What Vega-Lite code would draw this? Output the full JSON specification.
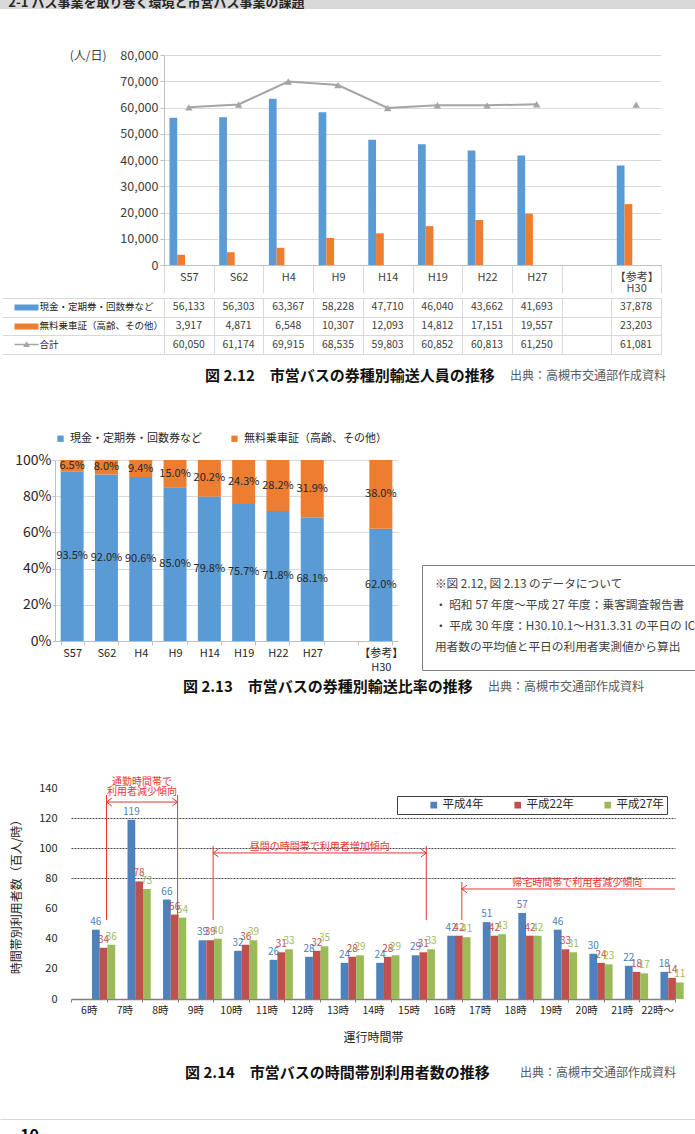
{
  "$schema": "https://vega.github.io/schema/vega-lite/v6.json",
  "padding": 0,
  "spacing": 0,
  "background": "white",
  "resolve": {"scale": {"color": "independent", "shape": "independent"}, "legend": {"color": "independent", "shape": "independent"}},
  "config": {
    "font": "Noto Sans CJK JP",
    "view": {"stroke": null},
    "concat": {"spacing": 0},
    "axis": {"labelColor": "#404040", "titleColor": "#404040", "titleFontWeight": "normal", "labelOverlap": false, "tickCount": 50},
    "legend": {"labelColor": "#404040"}
  },
  "datasets": {
    "c1": [
      {"cat": "S57", "cash": 56133, "free": 3917, "total": 60050},
      {"cat": "S62", "cash": 56303, "free": 4871, "total": 61174},
      {"cat": "H4", "cash": 63367, "free": 6548, "total": 69915},
      {"cat": "H9", "cash": 58228, "free": 10307, "total": 68535},
      {"cat": "H14", "cash": 47710, "free": 12093, "total": 59803},
      {"cat": "H19", "cash": 46040, "free": 14812, "total": 60852},
      {"cat": "H22", "cash": 43662, "free": 17151, "total": 60813},
      {"cat": "H27", "cash": 41693, "free": 19557, "total": 61250},
      {"cat": "H30", "cash": 37878, "free": 23203, "total": 61081}
    ],
    "c2": [
      {"cat": "S57", "s": "cash", "o": 1, "p": 0.935}, {"cat": "S57", "s": "free", "o": 2, "p": 0.065},
      {"cat": "S62", "s": "cash", "o": 1, "p": 0.920}, {"cat": "S62", "s": "free", "o": 2, "p": 0.080},
      {"cat": "H4", "s": "cash", "o": 1, "p": 0.906}, {"cat": "H4", "s": "free", "o": 2, "p": 0.094},
      {"cat": "H9", "s": "cash", "o": 1, "p": 0.850}, {"cat": "H9", "s": "free", "o": 2, "p": 0.150},
      {"cat": "H14", "s": "cash", "o": 1, "p": 0.798}, {"cat": "H14", "s": "free", "o": 2, "p": 0.202},
      {"cat": "H19", "s": "cash", "o": 1, "p": 0.757}, {"cat": "H19", "s": "free", "o": 2, "p": 0.243},
      {"cat": "H22", "s": "cash", "o": 1, "p": 0.718}, {"cat": "H22", "s": "free", "o": 2, "p": 0.282},
      {"cat": "H27", "s": "cash", "o": 1, "p": 0.681}, {"cat": "H27", "s": "free", "o": 2, "p": 0.319},
      {"cat": "H30", "s": "cash", "o": 1, "p": 0.620}, {"cat": "H30", "s": "free", "o": 2, "p": 0.380}
    ],
    "c3": [
      {"t": "6時", "s": "平成4年", "v": 46}, {"t": "6時", "s": "平成22年", "v": 34}, {"t": "6時", "s": "平成27年", "v": 36},
      {"t": "7時", "s": "平成4年", "v": 119}, {"t": "7時", "s": "平成22年", "v": 78}, {"t": "7時", "s": "平成27年", "v": 73},
      {"t": "8時", "s": "平成4年", "v": 66}, {"t": "8時", "s": "平成22年", "v": 56}, {"t": "8時", "s": "平成27年", "v": 54},
      {"t": "9時", "s": "平成4年", "v": 39}, {"t": "9時", "s": "平成22年", "v": 39}, {"t": "9時", "s": "平成27年", "v": 40},
      {"t": "10時", "s": "平成4年", "v": 32}, {"t": "10時", "s": "平成22年", "v": 36}, {"t": "10時", "s": "平成27年", "v": 39},
      {"t": "11時", "s": "平成4年", "v": 26}, {"t": "11時", "s": "平成22年", "v": 31}, {"t": "11時", "s": "平成27年", "v": 33},
      {"t": "12時", "s": "平成4年", "v": 28}, {"t": "12時", "s": "平成22年", "v": 32}, {"t": "12時", "s": "平成27年", "v": 35},
      {"t": "13時", "s": "平成4年", "v": 24}, {"t": "13時", "s": "平成22年", "v": 28}, {"t": "13時", "s": "平成27年", "v": 29},
      {"t": "14時", "s": "平成4年", "v": 24}, {"t": "14時", "s": "平成22年", "v": 28}, {"t": "14時", "s": "平成27年", "v": 29},
      {"t": "15時", "s": "平成4年", "v": 29}, {"t": "15時", "s": "平成22年", "v": 31}, {"t": "15時", "s": "平成27年", "v": 33},
      {"t": "16時", "s": "平成4年", "v": 42}, {"t": "16時", "s": "平成22年", "v": 42}, {"t": "16時", "s": "平成27年", "v": 41},
      {"t": "17時", "s": "平成4年", "v": 51}, {"t": "17時", "s": "平成22年", "v": 42}, {"t": "17時", "s": "平成27年", "v": 43},
      {"t": "18時", "s": "平成4年", "v": 57}, {"t": "18時", "s": "平成22年", "v": 42}, {"t": "18時", "s": "平成27年", "v": 42},
      {"t": "19時", "s": "平成4年", "v": 46}, {"t": "19時", "s": "平成22年", "v": 33}, {"t": "19時", "s": "平成27年", "v": 31},
      {"t": "20時", "s": "平成4年", "v": 30}, {"t": "20時", "s": "平成22年", "v": 24}, {"t": "20時", "s": "平成27年", "v": 23},
      {"t": "21時", "s": "平成4年", "v": 22}, {"t": "21時", "s": "平成22年", "v": 18}, {"t": "21時", "s": "平成27年", "v": 17},
      {"t": "22時～", "s": "平成4年", "v": 18}, {"t": "22時～", "s": "平成22年", "v": 14}, {"t": "22時～", "s": "平成27年", "v": 11}
    ]
  },
  "vconcat": [
    {
      "width": 695, "height": 9,
      "view": {"fill": "#d9d9d9", "stroke": null},
      "data": {"values": [{"h": "2-1 バス事業を取り巻く環境と市営バス事業の課題", "r": "r"}]},
      "mark": {"type": "text", "clip": true, "align": "left", "baseline": "alphabetic", "fontSize": 13, "fontWeight": "bold", "color": "#262626"},
      "encoding": {
        "x": {"field": "h", "type": "nominal", "axis": null, "scale": {"type": "point", "padding": 0, "align": 0.012}},
        "y": {"field": "r", "type": "nominal", "axis": null, "scale": {"type": "point", "padding": 0, "align": 0.8}},
        "text": {"field": "h"}
      }
    },
    {"width": 695, "height": 40, "data": {"values": []}, "mark": "text"},
    {
      "resolve": {"scale": {"color": "independent"}, "legend": {"color": "independent"}},
      "hconcat": [
        {"width": 1, "height": 1, "data": {"values": []}, "mark": "text"},
        {
          "resolve": {"scale": {"color": "independent"}, "legend": {"color": "independent"}},
          "vconcat": [
            {
              "width": 497, "height": 210,
              "data": {"name": "c1"},
              "layer": [
                {
                  "transform": [{"fold": ["cash", "free"], "as": ["k", "v"]}],
                  "mark": {"type": "bar"},
                  "encoding": {
                    "x": {"field": "cat", "type": "nominal", "title": null,
                      "scale": {"domain": ["S57","S62","H4","H9","H14","H19","H22","H27","blank","H30"], "paddingInner": 0, "paddingOuter": 0},
                      "axis": {"orient": "bottom", "title": null, "labelAngle": 0, "domainColor": "#bfbfbf", "tickBand": "extent", "tickSize": 28, "tickColor": "#d9d9d9",
                        "labelPadding": -16, "labelBaseline": "middle", "labelFont": "Liberation Sans Narrow, Noto Sans CJK JP", "labelFontSize": 11, "labelLineHeight": 11,
                        "labelExpr": "datum.value == 'blank' ? '' : datum.value == 'H30' ? ['【参考】', 'H30'] : datum.value"}},
                    "xOffset": {"field": "k", "scale": {"domain": ["cash", "free"], "paddingInner": 0, "paddingOuter": 0.71}},
                    "y": {"field": "v", "type": "quantitative", "title": "(人/日)",
                      "scale": {"domain": [0, 80000], "nice": false},
                      "axis": {"values": [0, 10000, 20000, 30000, 40000, 50000, 60000, 70000, 80000], "labelOverlap": false, "format": ",d", "labelFont": "Liberation Sans Narrow, Noto Sans CJK JP", "labelFontSize": 12.5, "labelPadding": 2,
                        "tickSize": 4, "tickColor": "#bfbfbf", "domain": true, "domainColor": "#bfbfbf", "gridColor": "#d9d9d9",
                        "titleAngle": 0, "titleAlign": "right", "titleBaseline": "middle", "titleX": -58, "titleY": 0, "titleFontSize": 12}},
                    "color": {"field": "k", "scale": {"domain": ["cash", "free"], "range": ["#5b9bd5", "#ed7d31"]}, "legend": null}
                  }
                },
                {
                  "transform": [{"filter": "datum.cat != 'H30'"}],
                  "mark": {"type": "line", "color": "#a5a5a5", "strokeWidth": 2},
                  "encoding": {
                    "x": {"field": "cat", "type": "nominal", "sort": ["S57","S62","H4","H9","H14","H19","H22","H27","blank","H30"], "title": null},
                    "y": {"field": "total", "type": "quantitative", "title": "(人/日)"}
                  }
                },
                {
                  "mark": {"type": "point", "shape": "triangle-up", "filled": true, "color": "#a5a5a5", "size": 55, "opacity": 1},
                  "encoding": {
                    "x": {"field": "cat", "type": "nominal", "title": null},
                    "y": {"field": "total", "type": "quantitative", "title": "(人/日)"}
                  }
                }
              ]
            },
            {
              "width": 497, "height": 56,
              "data": {"name": "c1"},
              "transform": [{"fold": ["cash", "free", "total"], "as": ["row", "val"]}],
              "layer": [
                {
                  "mark": {"type": "text", "font": "Liberation Sans Narrow, Noto Sans CJK JP", "fontSize": 10.5, "color": "#404040"},
                  "encoding": {
                    "x": {"field": "cat", "type": "nominal", "title": null,
                      "scale": {"domain": ["S57","S62","H4","H9","H14","H19","H22","H27","blank","H30"], "padding": 0},
                      "axis": {"title": null, "labels": false, "ticks": false, "domain": false, "grid": true, "tickBand": "extent", "gridColor": "#d9d9d9"}},
                    "y": {"field": "row", "type": "nominal", "title": null,
                      "scale": {"domain": ["cash", "free", "total"], "padding": 0},
                      "axis": {"orient": "left", "title": null, "domain": false, "grid": true, "gridColor": "#d9d9d9", "tickBand": "extent", "ticks": true, "tickSize": 162, "tickColor": "#d9d9d9",
                        "labelExpr": "datum.value == 'total' ? '▲' : ''", "labelAlign": "center", "labelBaseline": "middle", "labelPadding": -24, "labelFontSize": 7, "labelColor": "#a5a5a5"}},
                    "text": {"field": "val", "type": "quantitative", "format": ","}
                  }
                },
                {
                  "mark": {"type": "text", "opacity": 0},
                  "encoding": {
                    "x": {"field": "cat", "type": "nominal", "title": null},
                    "y": {"field": "row", "type": "nominal", "title": null,
                      "axis": {"orient": "left", "offset": 126, "title": null, "domain": false, "grid": false, "ticks": true, "tickSize": 24, "tickCap": "butt",
                        "tickWidth": {"condition": {"test": "datum.value == 'total'", "value": 1.5}, "value": 6},
                        "tickColor": {"condition": [{"test": "datum.value == 'cash'", "value": "#5b9bd5"}, {"test": "datum.value == 'free'", "value": "#ed7d31"}], "value": "#a5a5a5"},
                        "labelExpr": "datum.value == 'cash' ? '現金・定期券・回数券など' : datum.value == 'free' ? '無料乗車証（高齢、その他）' : '合計'",
                        "labelAlign": "left", "labelBaseline": "middle", "labelPadding": -25, "labelFontSize": 9.5, "labelLimit": 200, "labelColor": "#262626"}},
                    "text": {"field": "val", "type": "quantitative"}
                  }
                }
              ],
              "resolve": {"axis": {"y": "independent"}}
            }
          ]
        }
      ]
    },
    {
      "width": 695, "height": 78,
      "data": {"values": [{"k": "cap", "r": "r", "t": "図 2.12　市営バスの券種別輸送人員の推移"}, {"k": "src", "r": "r", "t": "出典：高槻市交通部作成資料"}]},
      "encoding": {
        "x": {"field": "k", "type": "nominal", "axis": null, "scale": {"type": "point", "domain": ["cap", "src"], "padding": 0.6393, "align": 0.5256}},
        "y": {"field": "r", "type": "nominal", "axis": null, "scale": {"type": "point", "padding": 0, "align": 0.27}},
        "text": {"field": "t"}
      },
      "layer": [
        {"transform": [{"filter": "datum.k == 'cap'"}], "mark": {"type": "text", "align": "left", "baseline": "middle", "fontSize": 15, "fontWeight": "bold", "color": "#111111"}},
        {"transform": [{"filter": "datum.k == 'src'"}], "mark": {"type": "text", "align": "left", "baseline": "middle", "fontSize": 12, "color": "#595959"}}
      ]
    },
    {
      "resolve": {"scale": {"color": "independent"}, "legend": {"color": "independent"}},
      "hconcat": [
        {"width": 14, "height": 1, "data": {"values": []}, "mark": "text"},
        {
          "width": 343, "height": 181,
          "data": {"name": "c2"},
          "encoding": {
            "x": {"field": "cat", "type": "nominal", "title": null,
              "scale": {"domain": ["S57","S62","H4","H9","H14","H19","H22","H27","blank","H30"], "paddingInner": 0.33, "paddingOuter": 0.165},
              "axis": {"title": null, "labelAngle": 0, "labelFontSize": 11, "tickBand": "extent", "tickSize": 4, "tickColor": "#bfbfbf", "domainColor": "#bfbfbf",
                "labelPadding": 2, "labelLineHeight": 14, "labelColor": "#262626",
                "labelExpr": "datum.value == 'blank' ? '' : datum.value == 'H30' ? ['【参考】', 'H30'] : datum.value"}},
            "order": {"field": "o"}
          },
          "layer": [
            {
              "mark": {"type": "bar"},
              "encoding": {
                "y": {"field": "p", "type": "quantitative", "stack": "zero", "title": null,
                  "scale": {"domain": [0, 1], "nice": false},
                  "axis": {"title": null, "format": ".0%", "values": [0, 0.2, 0.4, 0.6, 0.8, 1], "labelOverlap": false, "labelFontSize": 14, "tickSize": 3, "labelPadding": 1,
                    "domainColor": "#bfbfbf", "tickColor": "#bfbfbf", "gridColor": "#d9d9d9", "labelColor": "#262626", "minExtent": 0}},
                "color": {"field": "s", "scale": {"domain": ["cash", "free"], "range": ["#5b9bd5", "#ed7d31"]},
                  "legend": {"title": null, "orient": "top", "direction": "horizontal", "symbolType": "square", "symbolSize": 40, "labelFontSize": 11,
                    "columnPadding": 27, "labelOffset": 4, "offset": 16, "padding": 0, "labelLimit": 300, "labelColor": "#262626",
                    "labelExpr": "datum.value == 'cash' ? '現金・定期券・回数券など' : '無料乗車証（高齢、その他）'"}}
              }
            },
            {
              "mark": {"type": "text", "fontSize": 11, "color": "#262626"},
              "encoding": {
                "y": {"field": "p", "type": "quantitative", "stack": "zero", "bandPosition": 0.5, "title": null},
                "detail": {"field": "s"},
                "text": {"field": "p", "type": "quantitative", "format": ".1%"}
              }
            }
          ]
        },
        {"width": 18, "height": 1, "data": {"values": []}, "mark": "text"},
        {
          "vconcat": [
            {"width": 280, "height": 104, "data": {"values": []}, "mark": "text"},
            {
              "width": 280, "height": 105,
              "view": {"stroke": "#7f7f7f", "strokeWidth": 1},
              "data": {"values": [
                {"n": 1, "c": "c", "t": "※図 2.12, 図 2.13 のデータについて"},
                {"n": 2, "c": "c", "t": "・ 昭和 57 年度～平成 27 年度：乗客調査報告書"},
                {"n": 3, "c": "c", "t": "・ 平成 30 年度：H30.10.1～H31.3.31 の平日の IC"},
                {"n": 4, "c": "c", "t": "　 用者数の平均値と平日の利用者実測値から算出"}
              ]},
              "mark": {"type": "text", "align": "left", "baseline": "middle", "fontSize": 11.7, "color": "#404040", "clip": true},
              "encoding": {
                "x": {"field": "c", "type": "nominal", "axis": null, "scale": {"type": "point", "padding": 0, "align": 0.046}},
                "y": {"field": "n", "type": "ordinal", "axis": null, "scale": {"type": "point", "padding": 1.53, "align": 0.45}},
                "text": {"field": "t"}
              }
            }
          ]
        }
      ]
    },
    {
      "width": 695, "height": 104,
      "data": {"values": [{"k": "cap", "r": "r", "t": "図 2.13　市営バスの券種別輸送比率の推移"}, {"k": "src", "r": "r", "t": "出典：高槻市交通部作成資料"}]},
      "encoding": {
        "x": {"field": "k", "type": "nominal", "axis": null, "scale": {"type": "point", "domain": ["cap", "src"], "padding": 0.6393, "align": 0.4692}},
        "y": {"field": "r", "type": "nominal", "axis": null, "scale": {"type": "point", "padding": 0, "align": 0.1442}},
        "text": {"field": "t"}
      },
      "layer": [
        {"transform": [{"filter": "datum.k == 'cap'"}], "mark": {"type": "text", "align": "left", "baseline": "middle", "fontSize": 15, "fontWeight": "bold", "color": "#111111"}},
        {"transform": [{"filter": "datum.k == 'src'"}], "mark": {"type": "text", "align": "left", "baseline": "middle", "fontSize": 12, "color": "#595959"}}
      ]
    },
    {
      "resolve": {"scale": {"color": "independent", "shape": "independent"}, "legend": {"color": "independent", "shape": "independent"}},
      "hconcat": [
        {"width": 10, "height": 1, "data": {"values": []}, "mark": "text"},
        {
          "width": 604, "height": 211,
          "layer": [
            {
              "data": {"name": "c3"},
              "mark": {"type": "bar"},
              "encoding": {
                "x": {"field": "t", "type": "nominal", "title": "運行時間帯",
                  "scale": {"domain": ["6時","7時","8時","9時","10時","11時","12時","13時","14時","15時","16時","17時","18時","19時","20時","21時","22時～"], "padding": 0},
                  "axis": {"title": "運行時間帯", "labelAngle": 0, "labelFontSize": 10.5, "tickBand": "extent", "tickSize": 3, "tickColor": "#808080", "domainColor": "#808080", "domainWidth": 1.5,
                    "labelPadding": 3, "titlePadding": 17, "titleFontSize": 12, "labelColor": "#262626", "titleColor": "#262626"}},
                "xOffset": {"field": "s", "scale": {"domain": ["平成4年", "平成22年", "平成27年"], "paddingInner": 0, "paddingOuter": 0.33}},
                "y": {"field": "v", "type": "quantitative", "title": "時間帯別利用者数（百人/時）",
                  "scale": {"domain": [0, 140], "nice": false},
                  "axis": {"title": "時間帯別利用者数（百人/時）", "values": [0, 20, 40, 60, 80, 100, 120, 140], "labelOverlap": false, "labelFontSize": 11, "labelPadding": 14, "ticks": false, "tickSize": 0, "domain": false,
                    "grid": true, "gridColor": "#000000", "gridDash": [2, 1], "gridWidth": 0.7,
                    "gridOpacity": {"condition": {"test": "datum.value >= 80 && datum.value <= 120", "value": 1}, "value": 0},
                    "titleFontSize": 12, "titlePadding": 15, "labelColor": "#262626", "titleColor": "#262626"}},
                "color": {"field": "s", "scale": {"domain": ["平成4年", "平成22年", "平成27年"], "range": ["#4f81bd", "#c0504d", "#9bbb59"]},
                  "legend": {"title": null, "orient": "top-right", "offset": 8, "direction": "horizontal", "symbolType": "square", "symbolSize": 45, "labelFontSize": 11.5,
                    "strokeColor": "#404040", "fillColor": "white", "padding": 3, "columnPadding": 0, "symbolOffset": 28, "labelOffset": 3, "labelLimit": 200, "labelColor": "#262626"}}
              }
            },
            {
              "data": {"name": "c3"},
              "mark": {"type": "text", "fontSize": 10, "baseline": "middle", "dy": -8},
              "encoding": {
                "x": {"field": "t", "type": "nominal", "title": "運行時間帯"},
                "xOffset": {"field": "s"},
                "y": {"field": "v", "type": "quantitative", "title": "時間帯別利用者数（百人/時）"},
                "text": {"field": "v", "type": "quantitative"},
                "color": {"field": "s"}
              }
            },
            {
              "data": {"values": [
                {"c": "7時", "y1": 52.4, "y2": 135.4}, {"c": "9時", "y1": 52.4, "y2": 135.4},
                {"c": "10時", "y1": 52.4, "y2": 101.5}, {"c": "16時", "y1": 52.4, "y2": 101.5},
                {"c": "17時", "y1": 52.4, "y2": 77.6}
              ]},
              "mark": {"type": "rule", "color": "#ee3333", "strokeWidth": 1},
              "encoding": {
                "x": {"field": "c", "type": "nominal", "bandPosition": 0, "title": "運行時間帯"},
                "y": {"field": "y1", "type": "quantitative", "title": "時間帯別利用者数（百人/時）"},
                "y2": {"field": "y2"}
              }
            },
            {
              "data": {"values": [{"c1": "7時", "c2": "9時", "y": 130.7}, {"c1": "10時", "c2": "16時", "y": 96.9}]},
              "mark": {"type": "rule", "color": "#ee3333", "strokeWidth": 1},
              "encoding": {
                "x": {"field": "c1", "type": "nominal", "bandPosition": 0, "title": "運行時間帯"},
                "x2": {"field": "c2", "bandPosition": 0},
                "y": {"field": "y", "type": "quantitative", "title": "時間帯別利用者数（百人/時）"}
              }
            },
            {
              "data": {"values": [{"c1": "17時", "c2": "22時～", "y": 73}]},
              "mark": {"type": "rule", "color": "#ee3333", "strokeWidth": 1},
              "encoding": {
                "x": {"field": "c1", "type": "nominal", "bandPosition": 0, "title": "運行時間帯"},
                "x2": {"field": "c2", "bandPosition": 1},
                "y": {"field": "y", "type": "quantitative", "title": "時間帯別利用者数（百人/時）"}
              }
            },
            {
              "data": {"values": [
                {"c": "7時", "y": 130.7, "d": "L"}, {"c": "9時", "y": 130.7, "d": "R"},
                {"c": "10時", "y": 96.9, "d": "L"}, {"c": "16時", "y": 96.9, "d": "R"},
                {"c": "17時", "y": 73, "d": "L"}
              ]},
              "mark": {"type": "point", "filled": false, "stroke": "#ee3333", "strokeWidth": 1, "size": 110, "opacity": 1},
              "encoding": {
                "x": {"field": "c", "type": "nominal", "bandPosition": 0, "title": "運行時間帯"},
                "y": {"field": "y", "type": "quantitative", "title": "時間帯別利用者数（百人/時）"},
                "shape": {"field": "d", "scale": {"domain": ["L", "R"], "range": ["M0,0L1,-0.75M0,0L1,0.75", "M0,0L-1,-0.75M0,0L-1,0.75"]}, "legend": null}
              }
            },
            {
              "data": {"values": [
                {"c": "8時", "y": 144, "t": "通勤時間帯で"}, {"c": "8時", "y": 137.4, "t": "利用者減少傾向"},
                {"c": "13時", "y": 100.9, "t": "昼間の時間帯で利用者増加傾向"}
              ]},
              "mark": {"type": "text", "fontSize": 10, "color": "#ee3333", "baseline": "middle"},
              "encoding": {
                "x": {"field": "c", "type": "nominal", "bandPosition": 0, "title": "運行時間帯"},
                "y": {"field": "y", "type": "quantitative", "title": "時間帯別利用者数（百人/時）"},
                "text": {"field": "t"}
              }
            },
            {
              "data": {"values": [{"c": "20時", "y": 77, "t": "帰宅時間帯で利用者減少傾向"}]},
              "mark": {"type": "text", "fontSize": 10, "color": "#ee3333", "baseline": "middle"},
              "encoding": {
                "x": {"field": "c", "type": "nominal", "bandPosition": 0.25, "title": "運行時間帯"},
                "y": {"field": "y", "type": "quantitative", "title": "時間帯別利用者数（百人/時）"},
                "text": {"field": "t"}
              }
            }
          ]
        }
      ]
    },
    {
      "width": 695, "height": 75,
      "data": {"values": [{"k": "cap", "r": "r", "t": "図 2.14　市営バスの時間帯別利用者数の推移"}, {"k": "src", "r": "r", "t": "出典：高槻市交通部作成資料"}]},
      "encoding": {
        "x": {"field": "k", "type": "nominal", "axis": null, "scale": {"type": "point", "domain": ["cap", "src"], "padding": 0.5373, "align": 0.5139}},
        "y": {"field": "r", "type": "nominal", "axis": null, "scale": {"type": "point", "padding": 0, "align": 0.387}},
        "text": {"field": "t"}
      },
      "layer": [
        {"transform": [{"filter": "datum.k == 'cap'"}], "mark": {"type": "text", "align": "left", "baseline": "middle", "fontSize": 15, "fontWeight": "bold", "color": "#111111"}},
        {"transform": [{"filter": "datum.k == 'src'"}], "mark": {"type": "text", "align": "left", "baseline": "middle", "fontSize": 12, "color": "#595959"}}
      ]
    },
    {
      "width": 695, "height": 15,
      "data": {"values": [{"k": "p", "r": "r", "t": "10"}]},
      "mark": {"type": "text", "clip": true, "align": "left", "baseline": "top", "fontSize": 16, "fontWeight": "bold", "color": "#000000"},
      "encoding": {
        "x": {"field": "k", "type": "nominal", "scale": {"type": "point", "padding": 0, "align": 0.029},
          "axis": {"orient": "top", "labels": false, "ticks": false, "title": null, "domainColor": "#d9d9d9", "grid": false}},
        "y": {"field": "r", "type": "nominal", "axis": null, "scale": {"type": "point", "padding": 0, "align": 0.6}},
        "text": {"field": "t"}
      }
    }
  ]
}
